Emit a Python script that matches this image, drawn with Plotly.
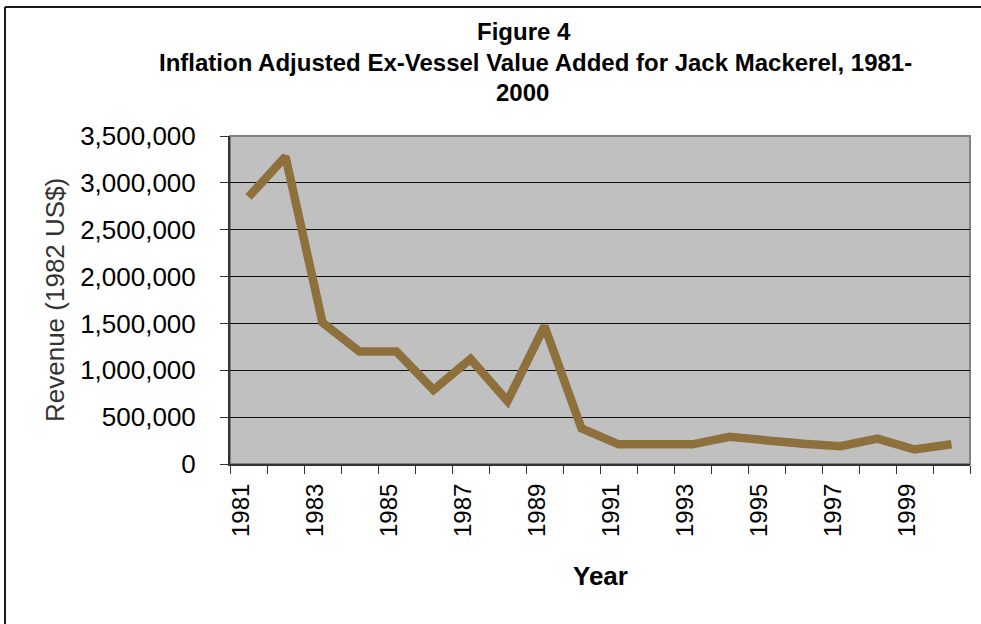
import plotly.graph_objects as go

# Jack mackerel ex-vessel value added, inflation adjusted (1982 US$)
years = [str(y) for y in range(1981, 2001)]
revenue = [2850000, 3280000, 1510000, 1200000, 1200000, 790000, 1120000, 670000,
           1470000, 380000, 210000, 210000, 210000, 290000, 245000, 215000,
           190000, 270000, 155000, 210000]
# every other year is labelled on the category axis
tick_text = [y if (int(y) - 1981) % 2 == 0 else "" for y in years]

title_lines = ["Figure 4",
               "Inflation Adjusted Ex-Vessel Value Added for Jack Mackerel, 1981-",
               "2000"]

W, H = 981, 624
L, R, T, B = 230, 11, 136, 160
plot_w = W - L - R
plot_h = H - T - B


def px_x(px):
    return (px - L) / plot_w


def px_y(py):
    return (H - B - py) / plot_h


FONT = "Liberation Sans, Arial, sans-serif"

fig = go.Figure()
fig.add_trace(go.Scatter(
    x=years, y=revenue, mode="lines",
    line=dict(color="#8E703C", width=8.5),
    hoverinfo="x+y", showlegend=False,
))

fig.update_layout(
    width=W, height=H,
    margin=dict(l=L, r=R, t=T, b=B, autoexpand=False),
    paper_bgcolor="white",
    plot_bgcolor="#C0C0C0",
    font=dict(family=FONT, color="black"),
    showlegend=False,
)

fig.update_xaxes(
    type="category",
    tickmode="array", tickvals=years, ticktext=tick_text,
    tickson="boundaries",
    ticks="outside", ticklen=8, tickwidth=1, tickcolor="#333333",
    tickangle=-90,
    tickfont=dict(family=FONT, size=24, color="black"),
    ticklabelstandoff=8,
    ticklabelshift=-7,
    showgrid=False,
    showline=True, linecolor="#333333", linewidth=2,
    range=[-0.5, len(years) - 0.5],
    zeroline=False,
)

fig.update_yaxes(
    range=[0, 3500000],
    tickmode="linear", tick0=0, dtick=500000,
    tickformat=",d",
    ticks="outside", ticklen=8, tickwidth=1, tickcolor="#333333",
    tickfont=dict(family=FONT, size=26, color="black"),
    ticklabelstandoff=19,
    showgrid=True, gridcolor="#111111", gridwidth=1,
    showline=True, linecolor="#333333", linewidth=2,
    zeroline=False,
)

shapes = [
    # plot area frame (grey on top and right)
    dict(type="rect", xref="paper", yref="paper", x0=0, x1=1, y0=0, y1=1,
         line=dict(color="#808080", width=2), fillcolor="rgba(0,0,0,0)",
         layer="below"),
    # outer chart border, visible on top and left
    dict(type="line", xref="paper", yref="paper",
         x0=px_x(5), x1=px_x(W + 5), y0=px_y(7), y1=px_y(7),
         line=dict(color="#1a1a1a", width=2)),
    dict(type="line", xref="paper", yref="paper",
         x0=px_x(5), x1=px_x(5), y0=px_y(7), y1=px_y(H + 5),
         line=dict(color="#1a1a1a", width=2)),
]
fig.update_layout(shapes=shapes)

# title set as three separate lines
annotations = [
    dict(text=title_lines[0], x=px_x(524), y=px_y(32)),
    dict(text=title_lines[1], x=px_x(535), y=px_y(62)),
    dict(text=title_lines[2], x=px_x(522), y=px_y(92)),
]
for a in annotations:
    a.update(xref="paper", yref="paper", xanchor="center", yanchor="middle",
             showarrow=False, font=dict(family=FONT, size=24, color="black"))
    a["text"] = "<b>" + a["text"] + "</b>"

annotations.append(dict(
    text="<b>Year</b>", x=px_x(600), y=px_y(576), xref="paper", yref="paper",
    xanchor="center", yanchor="middle", showarrow=False,
    font=dict(family=FONT, size=26, color="black"),
))
annotations.append(dict(
    text="Revenue (1982 US$)", x=px_x(55), y=px_y(300), xref="paper", yref="paper",
    xanchor="center", yanchor="middle", textangle=-90, showarrow=False,
    font=dict(family=FONT, size=26, color="#333333"),
))
fig.update_layout(annotations=annotations)

fig.write_html("out.html")
